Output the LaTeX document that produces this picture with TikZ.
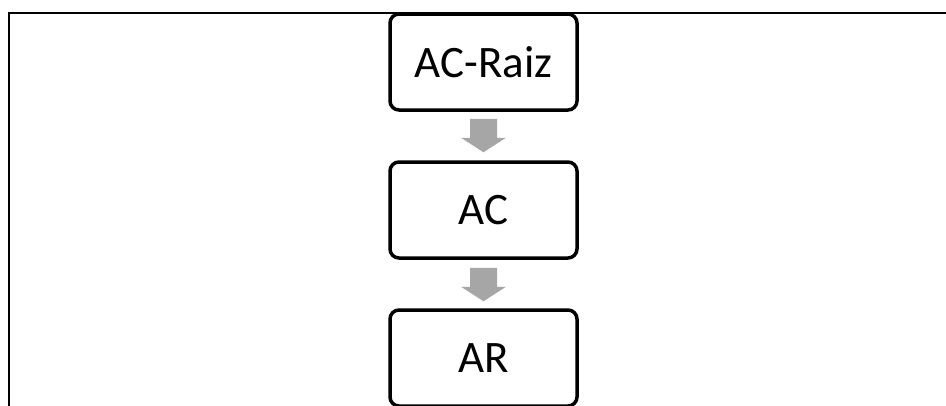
\documentclass[tikz,border=0pt]{standalone}
\usepackage{fontspec}
\setmainfont{Carlito}
\usetikzlibrary{calc}
\begin{document}
\begin{tikzpicture}[x=1pt,y=-1pt,
  box/.style={draw=black, line width=3.5pt, rounded corners=9pt, minimum width=187pt,
    minimum height=96pt, inner sep=0pt, fill=white, font=\fontsize{45}{54}\selectfont},
  frameline/.style={draw=black, line width=2pt},
  blockarrow/.style={fill=black!35, draw=none}]
\useasboundingbox (0,0) rectangle (946,405);
\clip (0,0) rectangle (946,405);
\coordinate (ftl) at (8.5,12.5);
\coordinate (fbl) at (8.5,406);
\coordinate (ftr) at (947,12.5);
\draw[frameline] (fbl) -- (ftl) -- (ftr);
\node[box] (raiz) at (483.5,62) {AC-Raiz};
\node[box] (ac) at (483.5,210) {AC};
\node[box] (ar) at (483.5,358) {AR};
\fill[blockarrow] ($(raiz.south)+(-13.5,7)$) -- ($(raiz.south)+(13.5,7)$)
  -- ($(raiz.south)+(13.5,26)$) -- ($(raiz.south)+(22.5,26)$) -- ($(ac.north)+(0,-8)$)
  -- ($(raiz.south)+(-22.5,26)$) -- ($(raiz.south)+(-13.5,26)$) -- cycle;
\fill[blockarrow] ($(ac.south)+(-13.5,8)$) -- ($(ac.south)+(13.5,8)$)
  -- ($(ac.south)+(13.5,27)$) -- ($(ac.south)+(22.5,27)$) -- ($(ar.north)+(0,-7)$)
  -- ($(ac.south)+(-22.5,27)$) -- ($(ac.south)+(-13.5,27)$) -- cycle;
\end{tikzpicture}
\end{document}
